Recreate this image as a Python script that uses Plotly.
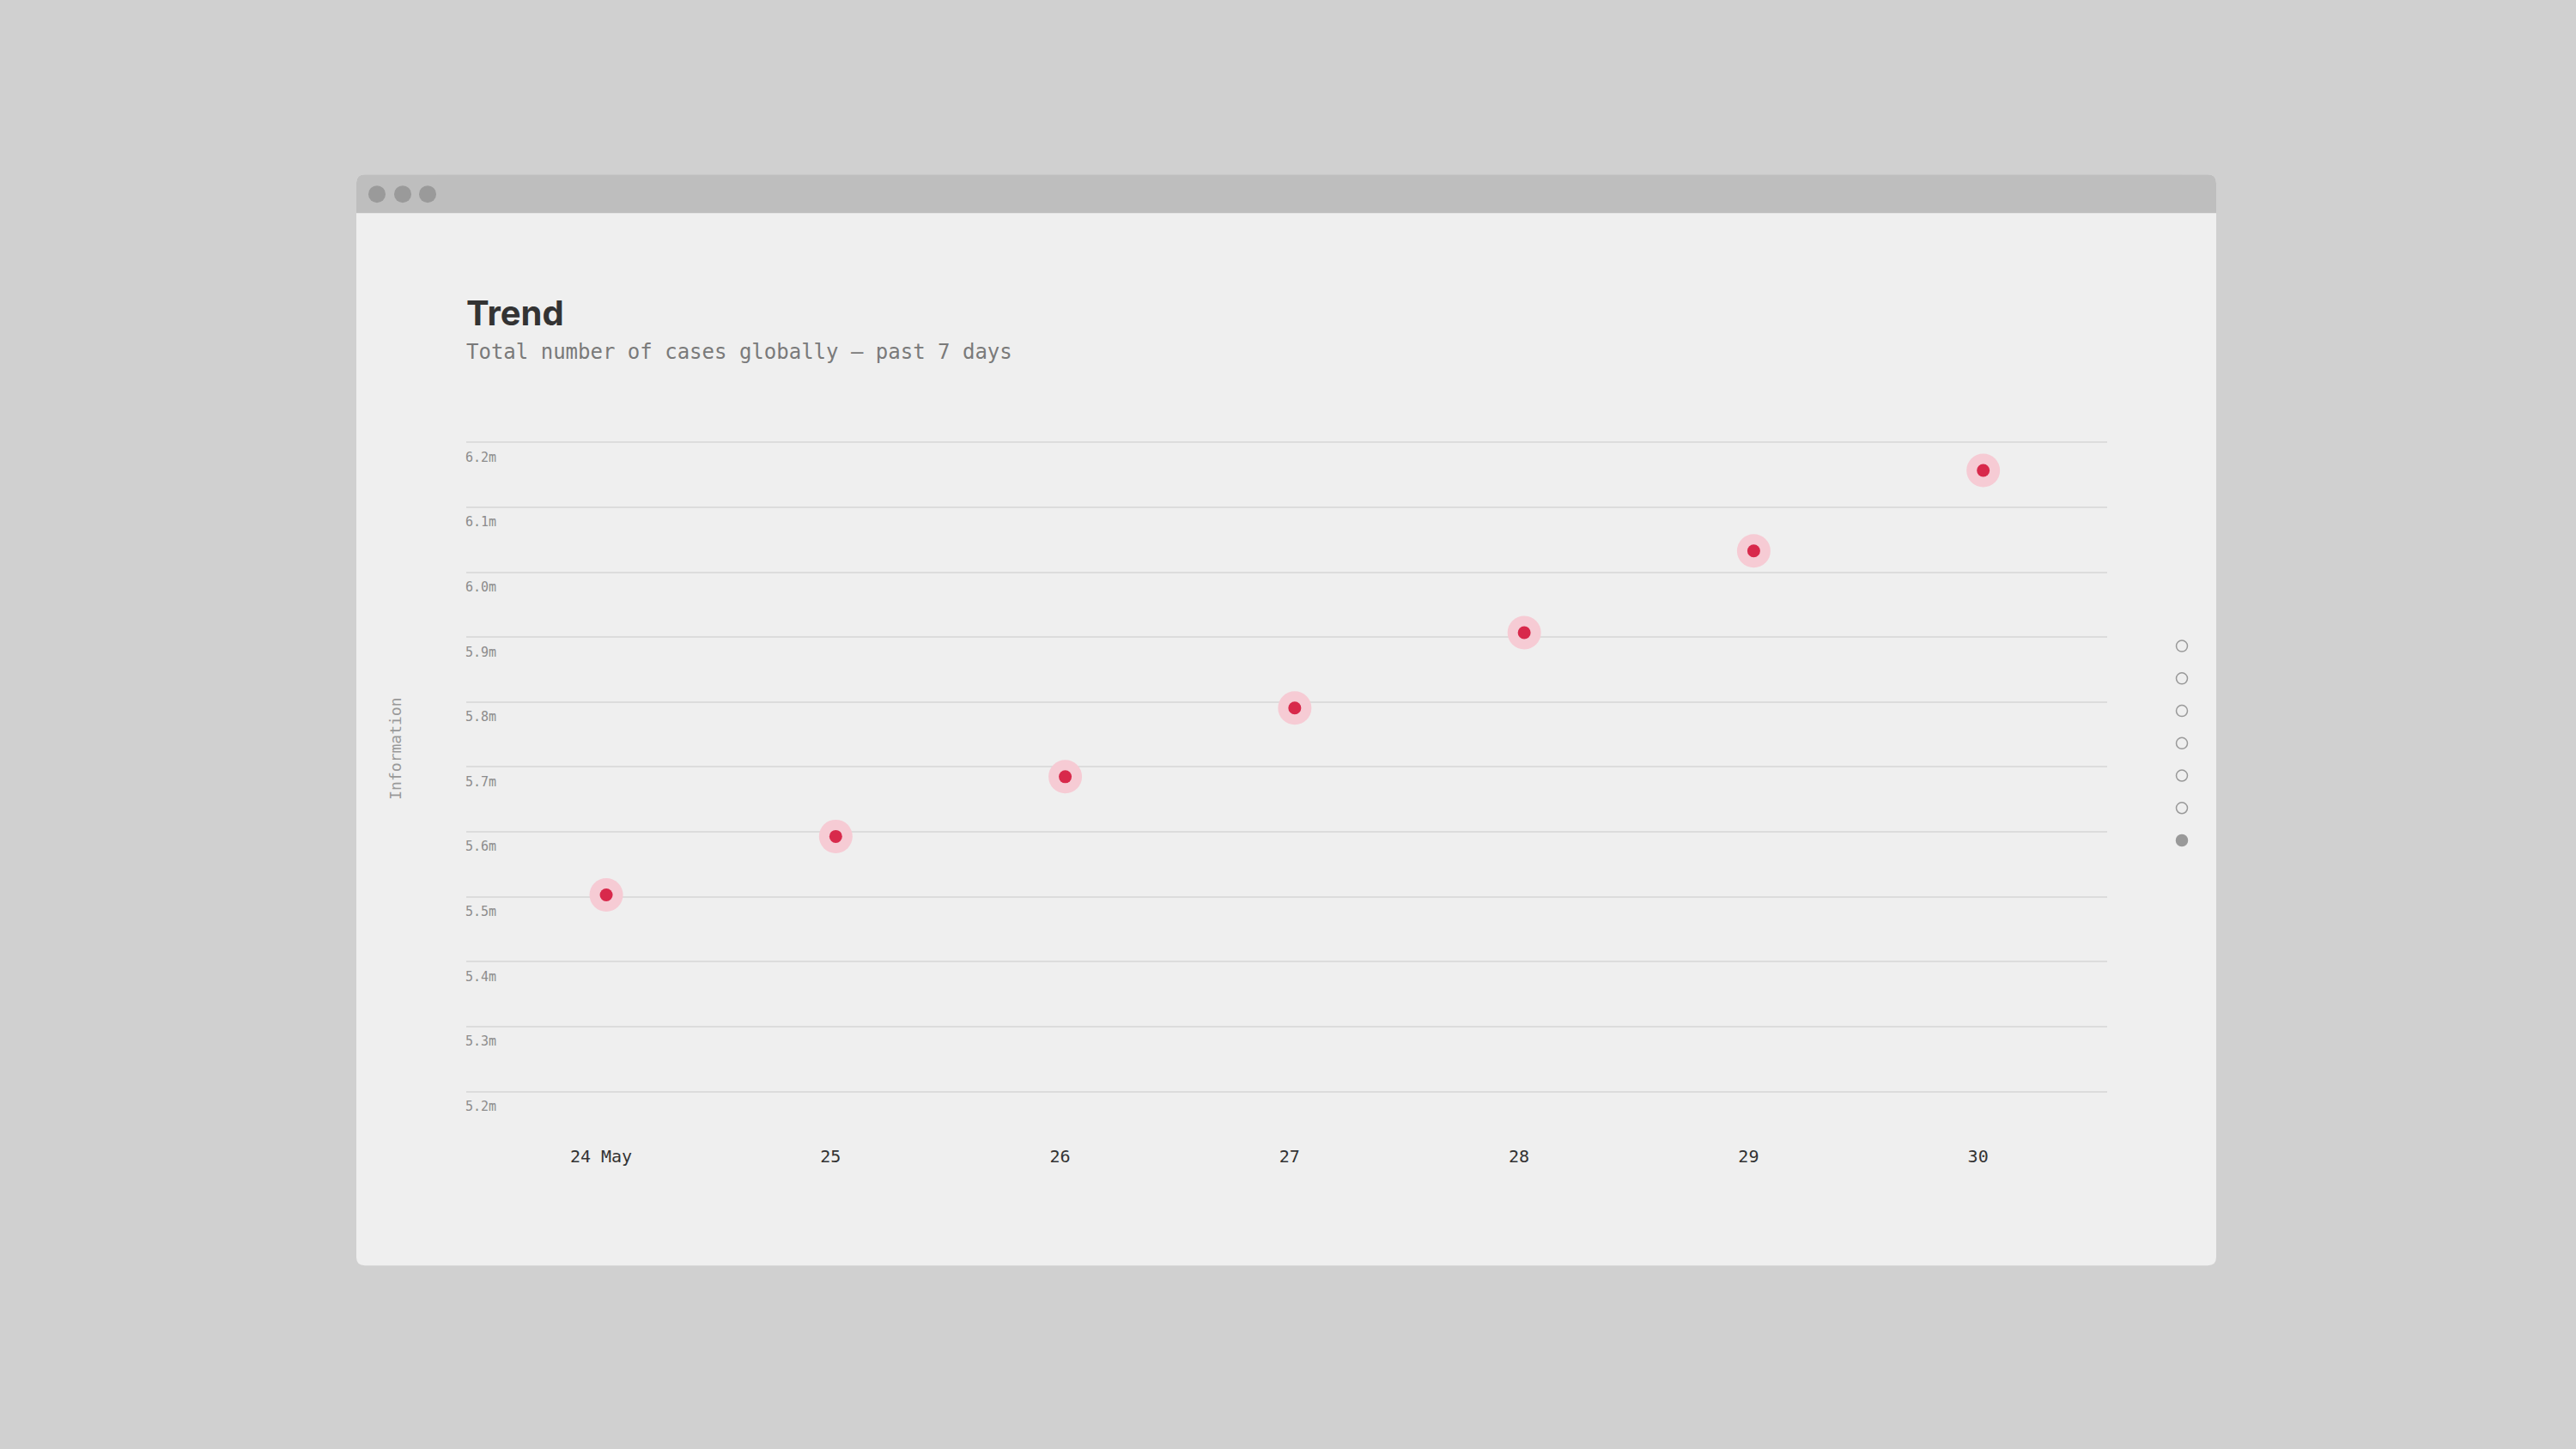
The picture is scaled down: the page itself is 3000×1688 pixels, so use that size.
import plotly.graph_objects as go

# canvas size (the page is photographed at this size)
W, H = 3000, 1688
# the photographed page comes out slightly squeezed vertically; compensate
Y_FIX = 1.0032

# data: total cases globally, past 7 days (millions)
days = ["24 May", "25", "26", "27", "28", "29", "30"]
cases_m = [5.503, 5.593, 5.685, 5.791, 5.907, 6.033, 6.157]

# y ticks
y_tick0 = 5.2
y_dtick = 0.1

# page navigation dots on the right
nav_pages = 7
nav_active = 6

title_text = "Trend"
subtitle_text = "Total number of cases globally \u2014 past 7 days"
side_label = "Information"

MONO = "DejaVu Sans Mono, Liberation Mono, monospace"
SANS = "Inter, Roboto, Noto Sans, sans-serif"


def fx(px):
    return px / W


def fy(py):
    return 1 - py * Y_FIX / H


def rounded_rect(x0, y0, x1, y1, r, bottom=True):
    # path in paper coords, pixel inputs (y down)
    rx, ry = r / W, r / H
    X0, X1 = fx(x0), fx(x1)
    Y0, Y1 = fy(y0), fy(y1)  # Y0 top, Y1 bottom
    p = f"M {X0} {Y0 - ry} Q {X0} {Y0} {X0 + rx} {Y0} L {X1 - rx} {Y0} Q {X1} {Y0} {X1} {Y0 - ry} "
    if bottom:
        p += f"L {X1} {Y1 + ry} Q {X1} {Y1} {X1 - rx} {Y1} L {X0 + rx} {Y1} Q {X0} {Y1} {X0} {Y1 + ry} Z"
    else:
        p += f"L {X1} {Y1} L {X0} {Y1} Z"
    return p


fig = go.Figure()

# halo behind each point
fig.add_trace(go.Scatter(
    x=days, y=cases_m, mode="markers",
    marker=dict(size=39, color="#f6cbd4", line=dict(width=0)),
    hoverinfo="skip", cliponaxis=False, showlegend=False,
))
fig.add_trace(go.Scatter(
    x=days, y=cases_m, mode="markers",
    marker=dict(size=15, color="#d8294b", line=dict(width=0)),
    cliponaxis=False, showlegend=False,
    hovertemplate="%{x}: %{y:.2f}m<extra></extra>",
))

shapes = []
# browser-like window
shapes.append(dict(type="path", xref="paper", yref="paper", layer="below",
                   path=rounded_rect(415, 203, 2581, 1473, 10),
                   fillcolor="#efefef", line=dict(width=0)))
shapes.append(dict(type="path", xref="paper", yref="paper", layer="below",
                   path=rounded_rect(415, 203, 2581, 248, 10, bottom=False),
                   fillcolor="#bebebe", line=dict(width=0)))
for cx in [439, 469, 498]:
    shapes.append(dict(type="circle", xref="paper", yref="paper", layer="below",
                       x0=fx(cx - 10), x1=fx(cx + 10), y0=fy(236), y1=fy(216),
                       fillcolor="#9a9a9a", line=dict(width=0)))

# navigation dots
for i in range(nav_pages):
    cy = 752 + i * 37.7
    active = i == nav_active
    shapes.append(dict(type="circle", xref="paper", yref="paper", layer="above",
                       x0=fx(2541 - 6.5), x1=fx(2541 + 6.5),
                       y0=fy(cy + 6.5), y1=fy(cy - 6.5),
                       fillcolor="#999999" if active else "rgba(0,0,0,0)",
                       line=dict(color="#999999", width=1.5)))

annotations = [
    dict(text=title_text, xref="paper", yref="paper", x=fx(541), y=fy(364),
         xanchor="left", yanchor="middle", showarrow=False,
         font=dict(family=SANS, size=40, color="#333333", weight=700)),
    dict(text=subtitle_text, xref="paper", yref="paper", x=fx(541), y=fy(410),
         xanchor="left", yanchor="middle", showarrow=False,
         font=dict(family=MONO, size=24, color="#7a7a7a")),
    dict(text=side_label, xref="paper", yref="paper", x=fx(461), y=fy(872),
         xanchor="center", yanchor="middle", showarrow=False, textangle=-90,
         font=dict(family=MONO, size=18, color="#999999")),
]

# y axis: 75.55 px per 0.1m, 6.2m gridline at y=515
y_lo, y_hi = 5.17, 6.23
px_per_unit = 755.5
y_top_px = 515 - (y_hi - 6.2) * px_per_unit
y_bot_px = 515 + (6.2 - y_lo) * px_per_unit

fig.update_layout(
    width=W, height=H,
    margin=dict(l=0, r=0, t=0, b=0),
    paper_bgcolor="#d0d0d0",
    plot_bgcolor="rgba(0,0,0,0)",
    shapes=shapes,
    annotations=annotations,
    showlegend=False,
    xaxis=dict(
        type="category",
        domain=[fx(543), fx(2454)],
        range=[-0.61, 6.54],
        showgrid=False, zeroline=False, showline=False,
        ticks="", ticklabelstandoff=39, ticklabelshift=-6,
        tickfont=dict(family=MONO, size=20, color="#333333"),
        fixedrange=True,
    ),
    yaxis=dict(
        domain=[fy(y_bot_px), fy(y_top_px)],
        range=[y_lo, y_hi],
        tick0=y_tick0, dtick=y_dtick,
        tickformat=".1f", ticksuffix="m",
        showgrid=True, gridcolor="#dcdcdc", gridwidth=2,
        zeroline=False, showline=False, ticks="",
        ticklabelposition="inside", ticklabelshift=17,
        ticklabeloverflow="allow", ticklabelstandoff=-4,
        tickfont=dict(family=MONO, size=15, color="#8c8c8c"),
        fixedrange=True,
    ),
)

# make the page exactly the figure size (no default margin, no overflow)
page_fix = """
var root = document.documentElement, body = document.body;
body.style.margin = '0';
[root, body].forEach(function (el) {
  el.style.height = '1688px'; el.style.width = '3000px'; el.style.overflow = 'hidden';
});
document.querySelectorAll('body > div').forEach(function (d) {
  d.style.height = '1688px'; d.style.overflow = 'hidden';
});
"""

fig.write_html("out.html", config={"displayModeBar": False}, post_script=page_fix)
